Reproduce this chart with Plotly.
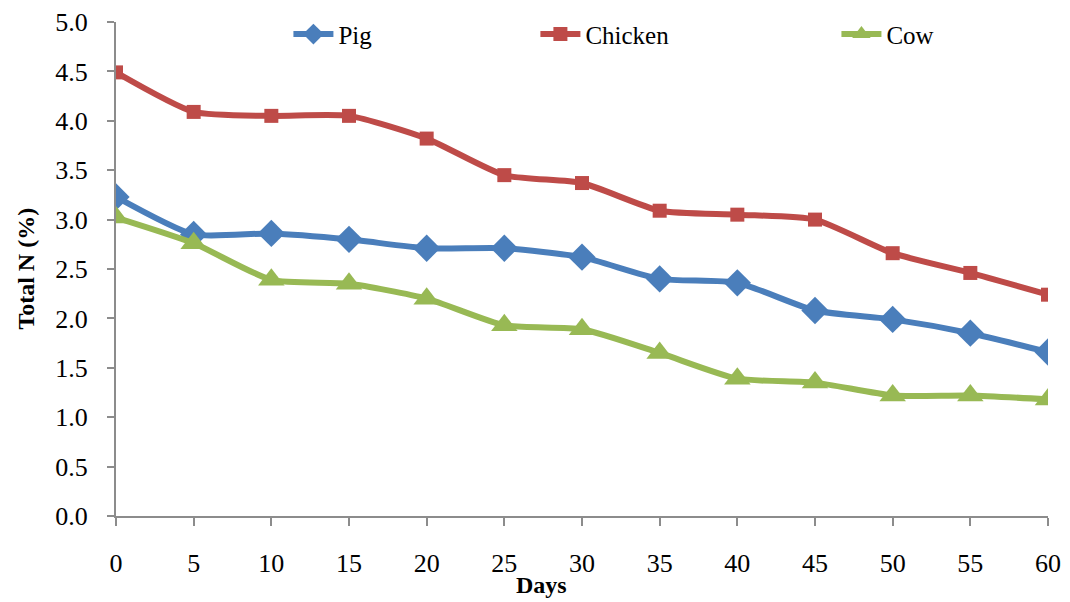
import plotly.graph_objects as go

days = [0, 5, 10, 15, 20, 25, 30, 35, 40, 45, 50, 55, 60]
pig = [3.23, 2.85, 2.86, 2.80, 2.71, 2.71, 2.62, 2.40, 2.36, 2.08, 1.99, 1.85, 1.66]
chicken = [4.49, 4.09, 4.05, 4.05, 3.82, 3.45, 3.37, 3.09, 3.05, 3.00, 2.66, 2.46, 2.24]
cow = [3.02, 2.76, 2.39, 2.35, 2.20, 1.93, 1.89, 1.65, 1.39, 1.35, 1.22, 1.22, 1.18]

y_ticks = [0.0, 0.5, 1.0, 1.5, 2.0, 2.5, 3.0, 3.5, 4.0, 4.5, 5.0]
x_ticks = days

FONT = "Liberation Serif"

series = [
    ("Pig", pig, "#4A7EBB", "diamond", 21, "legend", 0.185),
    ("Chicken", chicken, "#BE4B48", "square", 14, "legend2", 0.450),
    ("Cow", cow, "#98B954", "triangle-up", 23, "legend3", 0.773),
]

fig = go.Figure()
for name, vals, color, symbol, size, leg, _ in series:
    fig.add_trace(go.Scatter(
        x=days, y=vals, name=name, mode="lines+markers",
        line=dict(color=color, width=6, shape="spline", smoothing=0.6),
        marker=dict(symbol=symbol, size=size, color=color),
        legend=leg,
    ))

# one legend box per series so each entry sits at its own spot in the top band
layout_legends = {}
for name, vals, color, symbol, size, leg, xpos in series:
    layout_legends[leg] = dict(
        x=xpos, y=0.975, xanchor="left", yanchor="middle",
        orientation="h", bgcolor="rgba(0,0,0,0)",
        font=dict(family=FONT, size=25, color="black"),
        itemwidth=40,
    )

fig.update_layout(
    width=1070, height=602,
    margin=dict(l=116, r=22, t=22, b=86, autoexpand=False),
    paper_bgcolor="white", plot_bgcolor="white",
    font=dict(family=FONT, color="black"),
    showlegend=True,
    **layout_legends,
)

fig.update_xaxes(
    range=[0, 60], tickvals=x_ticks, ticktext=[str(v) for v in x_ticks],
    showgrid=False, zeroline=False,
    showline=True, linecolor="#8C8C8C", linewidth=2,
    ticks="outside", ticklen=8, tickwidth=2, tickcolor="#8C8C8C",
    ticklabelstandoff=15,
    tickfont=dict(family=FONT, size=26, color="black"),
)
fig.update_yaxes(
    range=[0, 5.0], tickvals=y_ticks, ticktext=[f"{v:.1f}" for v in y_ticks],
    showgrid=False, zeroline=False,
    showline=True, linecolor="#8C8C8C", linewidth=2,
    ticks="outside", ticklen=7, tickwidth=2, tickcolor="#8C8C8C",
    ticklabelstandoff=14,
    tickfont=dict(family=FONT, size=26, color="black"),
)

fig.add_annotation(
    text="<b>Days</b>", xref="paper", yref="paper",
    x=(541 - 116) / (1048 - 116), y=-0.14, xanchor="center", yanchor="middle",
    showarrow=False, font=dict(family=FONT, size=24, color="black"),
)
fig.add_annotation(
    text="<b>Total N (%)</b>", xref="paper", yref="paper",
    x=-0.097, y=0.5, xanchor="center", yanchor="middle", textangle=-90,
    showarrow=False, font=dict(family=FONT, size=24, color="black"),
)

fig.write_html("out.html")
